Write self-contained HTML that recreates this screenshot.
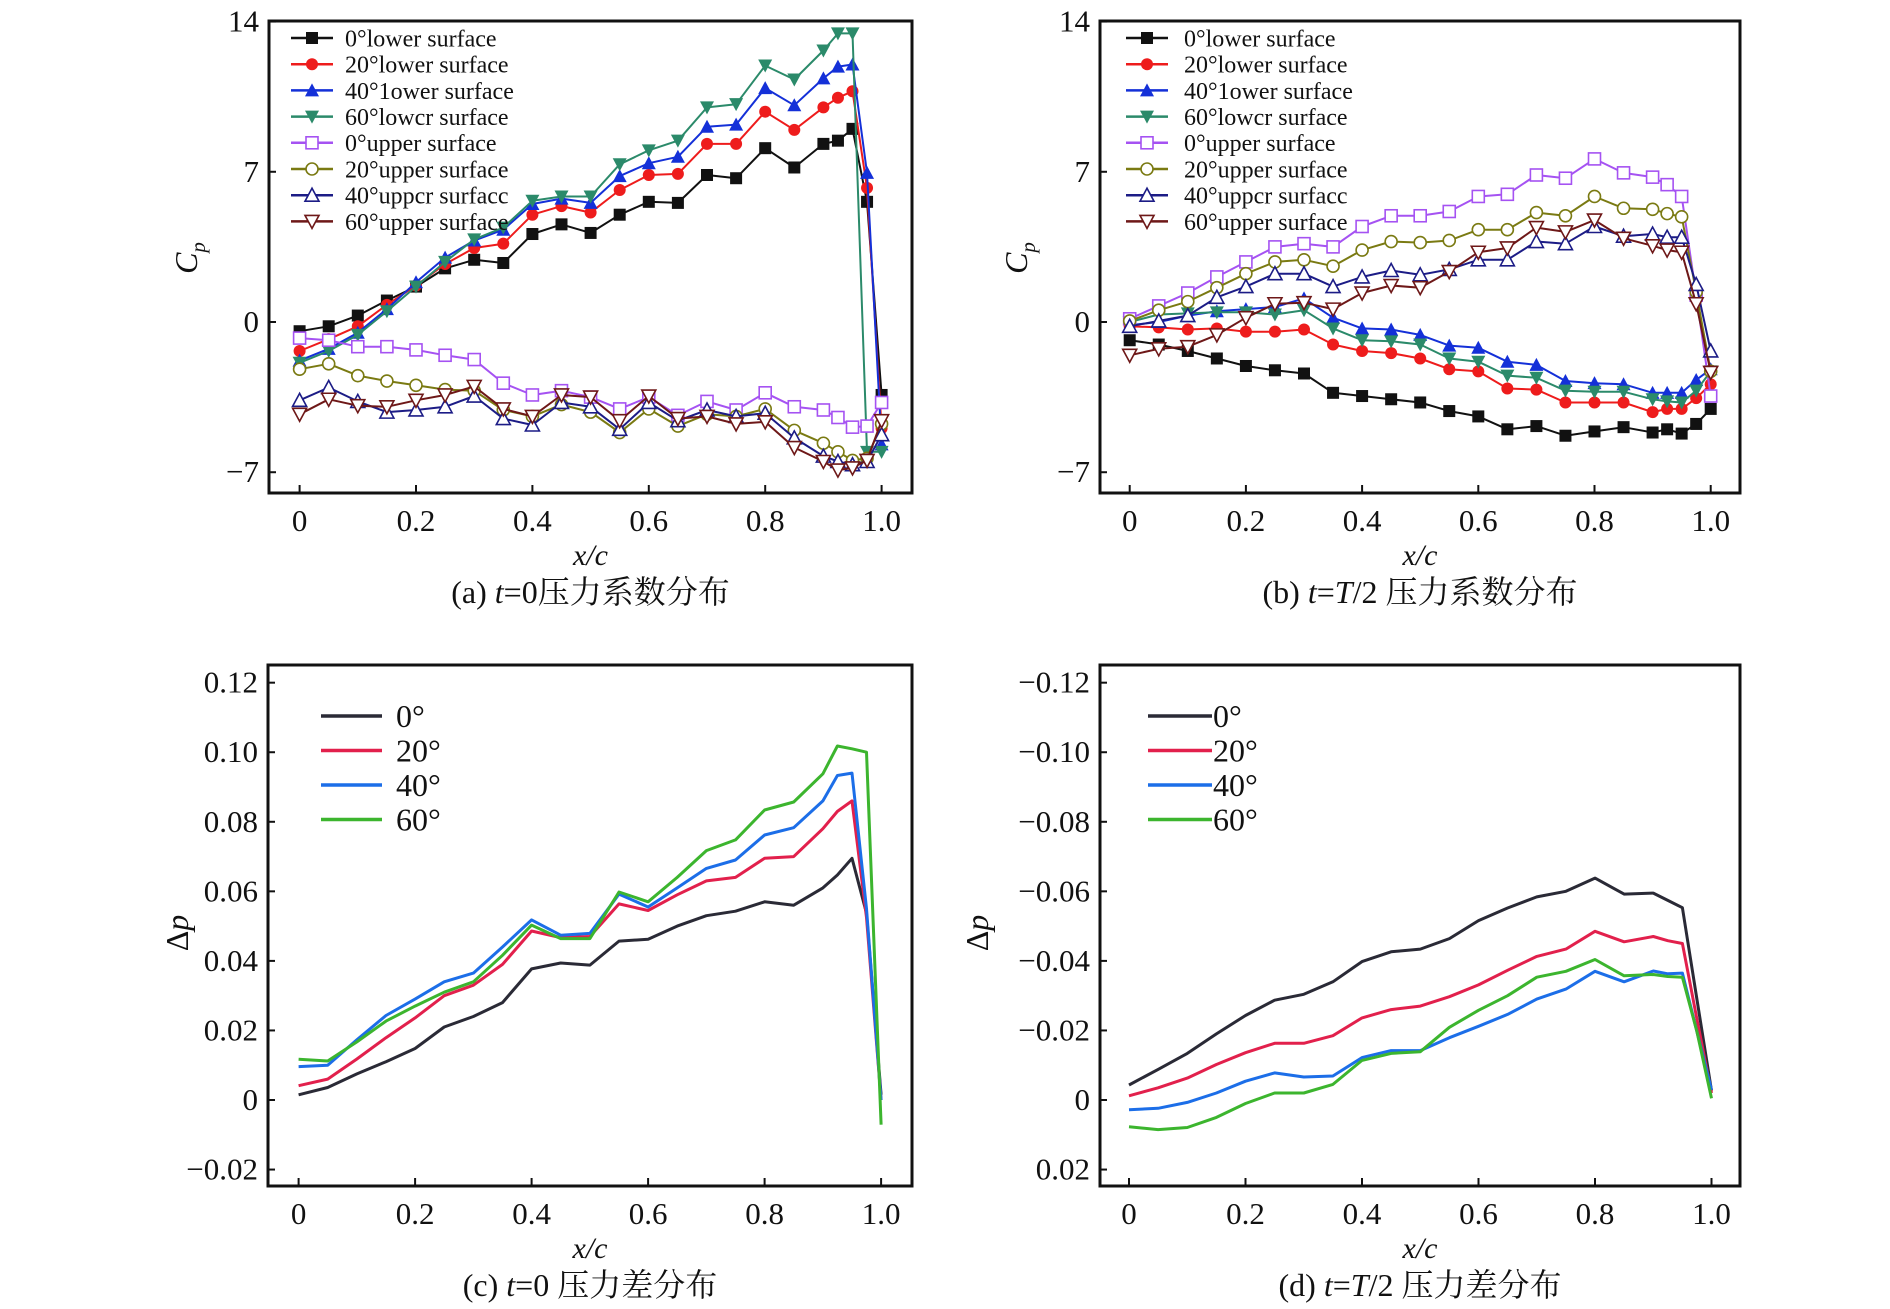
<!DOCTYPE html>
<html><head><meta charset="utf-8"><style>
html,body{margin:0;padding:0;background:#fff;}
svg{display:block;font-family:"Liberation Serif","Noto Serif CJK SC",serif;}
</style></head><body>
<svg id="fig" width="1890" height="1309" viewBox="0 0 1890 1309" xmlns="http://www.w3.org/2000/svg"></svg>
<script>
const xPts=[0,0.05,0.1,0.15,0.2,0.25,0.3,0.35,0.4,0.45,0.5,0.55,0.6,0.65,0.7,0.75,0.8,0.85,0.9,0.925,0.95,0.975,1.0];
const xTicks=[0,0.2,0.4,0.6,0.8,1.0];
const xTickLabels=["0","0.2","0.4","0.6","0.8","1.0"];
const cpTicks=[14,7,0,-7];
const cpTickLabels=["14","7","0","\u22127"];
const dpTicks=[0.12,0.10,0.08,0.06,0.04,0.02,0,-0.02];
const dpTickLabelsC=["0.12","0.10","0.08","0.06","0.04","0.02","0","\u22120.02"];
const dpTicksD=[-0.12,-0.10,-0.08,-0.06,-0.04,-0.02,0,0.02];
const dpTickLabelsD=["\u22120.12","\u22120.10","\u22120.08","\u22120.06","\u22120.04","\u22120.02","0","0.02"];
const cpLegend=["0°lower surface","20°lower surface","40°1ower surface","60°lowcr surface","0°upper surface","20°upper surface","40°uppcr surfacc","60°upper surface"];
const dpLegend=["0°","20°","40°","60°"];
// panel (a) t=0
const a_low0=[-0.43,-0.2,0.3,1.0,1.65,2.5,2.9,2.75,4.1,4.55,4.15,5.0,5.6,5.55,6.85,6.7,8.1,7.2,8.3,8.45,9.0,5.6,-3.4];
const a_low20=[-1.35,-0.8,-0.2,0.8,1.7,2.7,3.45,3.65,5.0,5.4,5.1,6.15,6.85,6.9,8.3,8.3,9.8,8.95,10.0,10.45,10.75,6.25,-4.95];
const a_low40=[-1.8,-1.25,-0.5,0.6,1.85,3.0,3.8,4.3,5.5,5.75,5.55,6.8,7.4,7.7,9.1,9.2,10.9,10.1,11.35,11.9,12.0,6.95,-5.7];
const a_low60=[-1.9,-1.35,-0.6,0.5,1.65,2.8,3.85,4.4,5.65,5.85,5.85,7.35,8.0,8.45,10.0,10.15,11.95,11.3,12.65,13.45,13.45,-6.05,-6.05];
const a_up0=[-0.75,-0.85,-1.15,-1.15,-1.3,-1.55,-1.75,-2.85,-3.4,-3.2,-3.5,-4.05,-3.5,-4.35,-3.7,-4.1,-3.3,-3.95,-4.1,-4.45,-4.9,-4.85,-3.75];
const a_up20=[-2.2,-1.95,-2.5,-2.75,-2.95,-3.15,-3.2,-4.1,-4.4,-3.85,-4.2,-5.15,-4.05,-4.85,-4.3,-4.4,-4.05,-5.05,-5.65,-6.05,-6.45,-6.35,-4.75];
const a_up40=[-3.65,-3.05,-3.7,-4.2,-4.1,-3.95,-3.45,-4.5,-4.8,-3.75,-3.95,-5.0,-3.75,-4.6,-4.1,-4.4,-4.25,-5.4,-6.25,-6.5,-6.65,-6.5,-5.25];
const a_up60=[-4.3,-3.6,-3.9,-3.95,-3.65,-3.4,-3.0,-4.05,-4.4,-3.4,-3.5,-4.6,-3.45,-4.5,-4.4,-4.75,-4.65,-5.85,-6.5,-6.9,-6.8,-6.45,-4.6];
// panel (b) t=T/2
const b_low0=[-0.85,-1.05,-1.35,-1.7,-2.05,-2.25,-2.4,-3.3,-3.45,-3.6,-3.75,-4.15,-4.4,-5.0,-4.85,-5.3,-5.1,-4.9,-5.15,-5.0,-5.2,-4.75,-4.05];
const b_low20=[-0.2,-0.25,-0.35,-0.3,-0.45,-0.45,-0.35,-1.05,-1.35,-1.45,-1.7,-2.2,-2.3,-3.1,-3.15,-3.75,-3.75,-3.75,-4.2,-4.05,-4.05,-3.55,-2.9];
const b_low40=[-0.15,0.0,0.3,0.5,0.6,0.7,1.1,0.2,-0.3,-0.35,-0.6,-1.1,-1.2,-1.85,-2.0,-2.75,-2.85,-2.9,-3.3,-3.3,-3.3,-2.7,-2.2];
const b_low60=[0,0.35,0.4,0.45,0.45,0.35,0.55,-0.3,-0.85,-0.9,-1.05,-1.7,-1.85,-2.5,-2.6,-3.2,-3.25,-3.25,-3.6,-3.7,-3.75,-3.2,-2.3];
const b_up0=[0.15,0.75,1.35,2.1,2.8,3.5,3.65,3.5,4.45,4.95,4.95,5.15,5.85,5.95,6.85,6.7,7.6,6.95,6.75,6.4,5.85,1.25,-3.45];
const b_up20=[0.05,0.55,0.95,1.6,2.25,2.8,2.9,2.6,3.35,3.75,3.7,3.8,4.3,4.3,5.1,4.95,5.85,5.3,5.25,5.05,4.9,1.4,-2.3];
const b_up40=[-0.2,0.05,0.3,1.15,1.65,2.25,2.25,1.65,2.1,2.4,2.2,2.45,2.9,2.9,3.75,3.65,4.45,4.0,4.1,3.95,3.95,1.75,-1.35];
const b_up60=[-1.55,-1.25,-1.15,-0.6,0.2,0.85,0.9,0.6,1.35,1.7,1.6,2.35,3.25,3.45,4.4,4.2,4.75,3.9,3.55,3.35,3.25,0.85,-2.35];
// panel (c) t=0 pressure difference
const c_0=[0.0015,0.0036,0.0075,0.011,0.0148,0.021,0.024,0.028,0.0377,0.0394,0.0388,0.0457,0.0462,0.050,0.053,0.0543,0.057,0.056,0.061,0.0647,0.0695,0.0537,0.0015];
const c_20=[0.0041,0.006,0.0118,0.0179,0.0236,0.030,0.033,0.039,0.0486,0.0467,0.047,0.0564,0.0545,0.059,0.063,0.064,0.0695,0.070,0.078,0.083,0.086,0.0525,0.0];
const c_40=[0.0096,0.010,0.0173,0.0243,0.029,0.034,0.0365,0.044,0.0518,0.0474,0.0479,0.0592,0.0555,0.061,0.0666,0.069,0.0762,0.0783,0.086,0.0933,0.094,0.055,0.0];
const c_60=[0.0117,0.0112,0.0167,0.0227,0.027,0.031,0.034,0.0416,0.0503,0.0464,0.0464,0.0598,0.057,0.064,0.0717,0.0748,0.0834,0.0857,0.0938,0.1018,0.101,0.1,-0.0071];
// panel (d) t=T/2 pressure difference
const d_0=[-0.0043,-0.0088,-0.0134,-0.019,-0.0243,-0.0287,-0.0304,-0.034,-0.0398,-0.0426,-0.0434,-0.0464,-0.0516,-0.0552,-0.0584,-0.060,-0.0638,-0.0592,-0.0595,-0.0574,-0.0553,-0.029,-0.0027];
const d_20=[-0.0012,-0.0035,-0.0063,-0.0102,-0.0136,-0.0163,-0.0163,-0.0185,-0.0236,-0.026,-0.027,-0.0297,-0.0331,-0.0373,-0.0413,-0.0434,-0.0485,-0.0455,-0.047,-0.0458,-0.045,-0.0233,-0.002];
const d_40=[0.0028,0.0024,0.0007,-0.002,-0.0054,-0.0078,-0.0066,-0.0069,-0.0122,-0.0142,-0.0142,-0.0179,-0.0212,-0.0246,-0.029,-0.0319,-0.037,-0.034,-0.0371,-0.0363,-0.0365,-0.0197,-0.0029];
const d_60=[0.0077,0.0085,0.0079,0.005,0.001,-0.002,-0.002,-0.0045,-0.0114,-0.0134,-0.0139,-0.0209,-0.0258,-0.03,-0.0353,-0.037,-0.0404,-0.0357,-0.0361,-0.0355,-0.0353,-0.0197,-0.0005];

const NS="http://www.w3.org/2000/svg";
const svg=document.getElementById('fig');
function mk(tag,attrs,parent){const e=document.createElementNS(NS,tag);for(const k in attrs)e.setAttribute(k,attrs[k]);(parent||svg).appendChild(e);return e;}
function txt(s,x,y,size,anchor,parent,extra){const t=mk('text',Object.assign({x:x,y:y,'font-size':size,'text-anchor':anchor||'start',fill:'#111'},extra||{}),parent);t.textContent=s;return t;}

function panel(o){
  const g=mk('g',{});
  
  
  const X=v=>o.x0+v*o.xs;
  const Y=v=>o.y0-v*o.ys*(o.inv?-1:1);
  const fr=mk('rect',{x:o.L,y:o.T,width:o.R-o.L,height:o.B-o.T,fill:'none',stroke:'#111','stroke-width':3},g);
  
  
  o.yt.forEach((v,i)=>{
    const y=Y(v);
    mk('line',{x1:o.L,x2:o.L+7,y1:y,y2:y,stroke:'#111','stroke-width':2},g);
    const t=txt(o.ytl[i],o.L-10,y+10,31,'end',g);
    
    
  });
  xTicks.forEach((v,i)=>{
    const x=X(v);
    mk('line',{x1:x,x2:x,y1:o.B,y2:o.B-8,stroke:'#111','stroke-width':2},g);
    const t=txt(xTickLabels[i],x,o.B+o.tkOff,31,'middle',g);
    
    
  });
  const xt=txt('x/c',(o.L+o.R)/2,o.B+o.xtOff,30,'middle',g,{'font-style':'italic'});
  
  
  const yt=mk('text',{x:0,y:0,'font-size':32,'text-anchor':'middle',fill:'#111',transform:`translate(${o.ytx},${o.yty}) rotate(-90)`},g);
  yt.innerHTML=o.ytitle;
  
  
  const cap=mk('text',{x:(o.L+o.R)/2,y:o.B+o.capOff,'font-size':32,'text-anchor':'middle',fill:'#111'},g);
  cap.innerHTML=o.caption;
  
  
  o.series.forEach((s,si)=>{
    const pts=s.v.map((v,i)=>X(xPts[i]).toFixed(1)+','+Y(v).toFixed(1)).join(' ');
    const pl=mk('polyline',{points:pts,fill:'none',stroke:s.c,'stroke-width':o.lw,'stroke-linejoin':'round'},g);
    
    
    if(s.m){s.v.forEach((v,i)=>{const mm=marker(s.m,X(xPts[i]),Y(v),s.c,g);});}
  });
  o.series.forEach((s,si)=>{
    const ly=o.legY+si*o.legDy;
    const ll=mk('line',{x1:o.legX1,x2:o.legX2,y1:ly,y2:ly,stroke:s.c,'stroke-width':o.lw+0.5},g);
    
    
    if(s.m){const mm=marker(s.m,(o.legX1+o.legX2)/2,ly,s.c,g);}
    const t=txt(o.leg[si],o.legTx,ly+o.legFs*0.35,o.legFs,'start',g);
    
    
  });
}
function marker(m,x,y,c,g){
  const r=6;
  if(m==='sf')return mk('rect',{x:x-r,y:y-r,width:2*r,height:2*r,fill:c},g);
  if(m==='so')return mk('rect',{x:x-r,y:y-r,width:2*r,height:2*r,fill:'#fff',stroke:c,'stroke-width':1.6},g);
  if(m==='cf')return mk('circle',{cx:x,cy:y,r:r,fill:c},g);
  if(m==='co')return mk('circle',{cx:x,cy:y,r:r,fill:'#fff',stroke:c,'stroke-width':1.6},g);
  if(m==='tf')return mk('polygon',{points:`${x},${y-r-1} ${x-r-1},${y+r} ${x+r+1},${y+r}`,fill:c},g);
  if(m==='to')return mk('polygon',{points:`${x},${y-r-1} ${x-r-1},${y+r} ${x+r+1},${y+r}`,fill:'#fff',stroke:c,'stroke-width':1.6},g);
  if(m==='df')return mk('polygon',{points:`${x},${y+r+1} ${x-r-1},${y-r} ${x+r+1},${y-r}`,fill:c},g);
  return mk('polygon',{points:`${x},${y+r+1} ${x-r-1},${y-r} ${x+r+1},${y-r}`,fill:'#fff',stroke:c,'stroke-width':1.6},g);
}
const cpColors=['#111','#ee1c1c','#1430d8','#2b8a6a','#a552f2','#7a7a12','#1c1c86','#6e1818'];
const cpMarks=['sf','cf','tf','df','so','co','to','do'];
const dpColors=['#2a2a36','#e2204c','#1c6ee8','#3cb52e'];
function cpSeries(arrs){return arrs.map((v,i)=>({v:v,c:cpColors[i],m:cpMarks[i]}));}
function dpSeries(arrs){return arrs.map((v,i)=>({v:v,c:dpColors[i]}));}
const cpTitle='<tspan font-style="italic">C</tspan><tspan font-style="italic" font-size="21" dy="8">p</tspan>';
const dpTitle='\u0394<tspan font-style="italic">p</tspan>';

panel({name:'panel-a-cp-t0',L:269,R:912,T:21,B:493,x0:299.6,xs:582,y0:322,ys:21.46,yt:cpTicks,ytl:cpTickLabels,
 ytitle:cpTitle,ytx:197,yty:258,caption:'(a) <tspan font-style="italic">t</tspan>=0压力系数分布',lw:2,
 tkOff:38,xtOff:72,capOff:110,
 series:cpSeries([a_low0,a_low20,a_low40,a_low60,a_up0,a_up20,a_up40,a_up60]),leg:cpLegend,
 legY:38,legDy:26.2,legX1:291,legX2:333,legTx:345,legFs:24});
panel({name:'panel-b-cp-t-half',L:1100,R:1740,T:21,B:493,x0:1129.7,xs:581,y0:322,ys:21.46,yt:cpTicks,ytl:cpTickLabels,
 ytitle:cpTitle,ytx:1027,yty:258,caption:'(b) <tspan font-style="italic">t</tspan>=<tspan font-style="italic">T</tspan>/2 压力系数分布',lw:2,
 tkOff:38,xtOff:72,capOff:110,
 series:cpSeries([b_low0,b_low20,b_low40,b_low60,b_up0,b_up20,b_up40,b_up60]),leg:cpLegend,
 legY:38,legDy:26.2,legX1:1126,legX2:1168,legTx:1184,legFs:24});
panel({name:'panel-c-dp-t0',L:268,R:912,T:665,B:1186,x0:298.6,xs:582.5,y0:1100,ys:3477.7,yt:dpTicks,ytl:dpTickLabelsC,
 ytitle:dpTitle,ytx:188,yty:933,caption:'(c) <tspan font-style="italic">t</tspan>=0 压力差分布',lw:3,
 tkOff:38,xtOff:72,capOff:110,
 series:dpSeries([c_0,c_20,c_40,c_60]),leg:dpLegend,
 legY:716,legDy:34.5,legX1:321,legX2:382,legTx:396,legFs:32});
panel({name:'panel-d-dp-t-half',L:1100,R:1740,T:665,B:1186,x0:1129,xs:582.5,y0:1100,ys:3477.7,inv:true,yt:dpTicksD,ytl:dpTickLabelsD,
 ytitle:dpTitle,ytx:988,yty:933,caption:'(d) <tspan font-style="italic">t</tspan>=<tspan font-style="italic">T</tspan>/2 压力差分布',lw:3,
 tkOff:38,xtOff:72,capOff:110,
 series:dpSeries([d_0,d_20,d_40,d_60]),leg:dpLegend,
 legY:716,legDy:34.5,legX1:1148,legX2:1212,legTx:1213,legFs:32});
</script>
</body></html>
